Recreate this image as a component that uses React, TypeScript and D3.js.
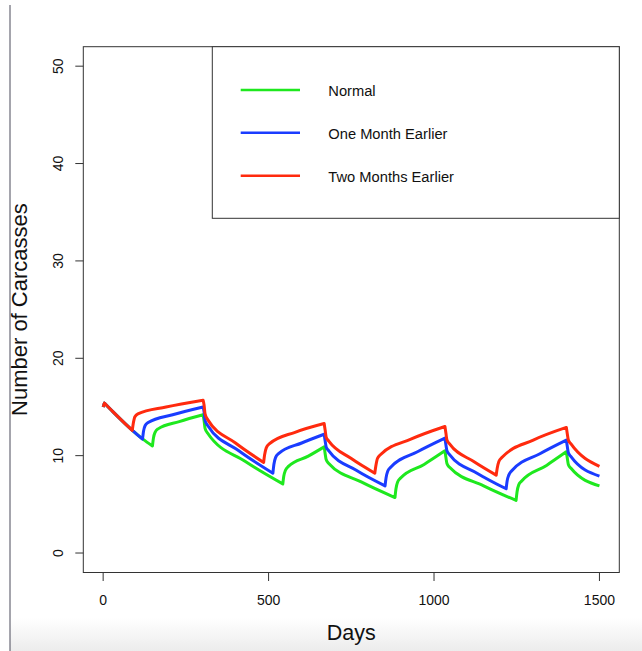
import React from "react";
import * as d3 from "d3";

const seriesNames = ["Normal", "One Month Earlier", "Two Months Earlier"];
const seriesColors = ["#1ee81e", "#1a3cff", "#ff2a0e"];

const xTicks = [0, 500, 1000, 1500];
const yTicks = [0, 10, 20, 30, 40, 50];

const normal: [number, number][] = [
  [0, 15.0], [4, 15.4], [30, 14.5], [60, 13.5], [90, 12.55], [120, 11.7], [149, 11.0],
  [152, 11.8], [157, 12.4], [166, 12.75], [230, 13.5], [302, 14.2],
  [305, 13.6], [308, 12.8], [316, 12.3], [430, 9.4], [543, 7.1],
  [546, 7.9], [551, 8.5], [560, 8.9], [620, 9.95], [668, 10.9],
  [671, 10.2], [674, 9.6], [682, 9.2], [780, 7.3], [882, 5.7],
  [885, 6.6], [890, 7.3], [899, 7.7], [970, 9.1], [1033, 10.5],
  [1036, 9.8], [1039, 9.2], [1047, 8.8], [1150, 6.9], [1248, 5.4],
  [1251, 6.3], [1256, 7.0], [1265, 7.4], [1340, 9.0], [1400, 10.4],
  [1403, 9.7], [1406, 9.1], [1414, 8.7], [1500, 6.9],
];

const oneMonth: [number, number][] = [
  [0, 15.0], [4, 15.4], [30, 14.5], [60, 13.5], [90, 12.55], [119, 11.7],
  [122, 12.5], [127, 13.1], [136, 13.4], [210, 14.2], [302, 15.0],
  [305, 14.5], [308, 13.6], [316, 13.1], [410, 10.5], [513, 8.2],
  [516, 9.1], [521, 9.8], [530, 10.2], [600, 11.3], [668, 12.2],
  [671, 11.5], [674, 10.9], [682, 10.5], [765, 8.5], [852, 6.9],
  [855, 7.7], [860, 8.4], [869, 8.8], [950, 10.4], [1033, 11.8],
  [1036, 11.1], [1039, 10.5], [1047, 10.1], [1130, 8.2], [1218, 6.6],
  [1221, 7.4], [1226, 8.0], [1235, 8.45], [1320, 10.2], [1400, 11.6],
  [1403, 10.9], [1406, 10.3], [1414, 9.9], [1500, 7.9],
];

const twoMonths: [number, number][] = [
  [0, 15.0], [4, 15.4], [30, 14.5], [60, 13.5], [88, 12.6],
  [91, 13.3], [96, 14.0], [105, 14.3], [190, 15.0], [302, 15.7],
  [305, 15.2], [308, 14.3], [316, 13.7], [400, 11.3], [485, 9.3],
  [488, 10.1], [493, 10.8], [502, 11.2], [580, 12.4], [668, 13.3],
  [671, 12.6], [674, 11.9], [682, 11.5], [750, 9.7], [821, 8.2],
  [824, 8.9], [829, 9.7], [838, 10.1], [930, 11.7], [1033, 13.0],
  [1036, 12.3], [1039, 11.6], [1047, 11.2], [1120, 9.4], [1188, 8.0],
  [1191, 8.7], [1196, 9.4], [1205, 9.8], [1300, 11.6], [1400, 12.9],
  [1403, 12.2], [1406, 11.6], [1414, 11.2], [1500, 8.9],
];

const allSeries = [normal, oneMonth, twoMonths];

const FONT = "'Liberation Sans', Arial, Helvetica, sans-serif";

// split a series into monotone runs so that peaks and troughs stay sharp
function monotoneRuns(pts: [number, number][]): [number, number][][] {
  const runs: [number, number][][] = [];
  let cur: [number, number][] = [pts[0]];
  let dir = 0;
  for (let i = 1; i < pts.length; i++) {
    const d = Math.sign(pts[i][1] - pts[i - 1][1]);
    if (dir !== 0 && d !== 0 && d !== dir) {
      runs.push(cur);
      cur = [pts[i - 1]];
    }
    if (d !== 0) dir = d;
    cur.push(pts[i]);
  }
  runs.push(cur);
  return runs;
}

export default function App() {
  const W = 642;
  const H = 651;
  const left = 83.3, right = 619.3, top = 46.7, bottom = 572.5;
  const x = d3.scaleLinear().domain([-60, 1560]).range([left, right]);
  const y = d3.scaleLinear().domain([-2, 52]).range([bottom, top]);

  const line = d3
    .line<[number, number]>()
    .x((d) => x(d[0]))
    .y((d) => y(d[1]))
    .curve(d3.curveMonotoneX);

  const pathFor = (pts: [number, number][]) => {
    const runs = monotoneRuns(pts);
    return runs
      .map((r, i) => {
        const s = line(r) || "";
        return i === 0 ? s : s.replace(/^M/, "L");
      })
      .join("");
  };

  const legTop = 46.7, legLeft = 212.3, legBottom = 218.3;
  const legLineY = [90, 132.7, 175.7];

  return (
    <svg
      width={W}
      height={H}
      style={{ position: "absolute", left: 0, top: 0, background: "#fff" }}
      fontFamily={FONT}
    >
      <defs>
        <linearGradient id="bottomFade" x1="0" y1="0" x2="0" y2="1">
          <stop offset="0" stopColor="#ffffff" />
          <stop offset="1" stopColor="#ececec" />
        </linearGradient>
      </defs>
      <rect x={0} y={0} width={W} height={H} fill="#fff" />
      <rect x={10} y={618} width={W - 10} height={H - 618} fill="url(#bottomFade)" />
      <line x1={10} y1={5} x2={10} y2={H} stroke="#4a4a5a" strokeWidth={1} />

      {/* series: green, blue, then red on top */}
      <g>
        {allSeries.map((s, i) => (
          <path
            key={i}
            d={pathFor(s)}
            fill="none"
            stroke={seriesColors[i]}
            strokeWidth={3}
            strokeLinejoin="round"
            strokeLinecap="butt"
          />
        ))}
      </g>

      {/* plot box */}
      <rect
        x={left}
        y={top}
        width={right - left}
        height={bottom - top}
        fill="none"
        stroke="#333"
        strokeWidth={1}
      />

      {/* x axis */}
      {xTicks.map((t) => (
        <g key={"x" + t}>
          <line x1={x(t)} x2={x(t)} y1={bottom} y2={bottom + 8.5} stroke="#333" />
          <text x={x(t)} y={605} textAnchor="middle" fontSize={14} fill="#111">
            {t}
          </text>
        </g>
      ))}
      <text x={(left + right) / 2} y={640} textAnchor="middle" fontSize={21.5} fill="#111">
        Days
      </text>

      {/* y axis */}
      {yTicks.map((t) => (
        <g key={"y" + t}>
          <line x1={left - 8} x2={left} y1={y(t)} y2={y(t)} stroke="#333" />
          <text
            transform={`translate(63,${y(t)}) rotate(-90)`}
            textAnchor="middle"
            fontSize={14}
            fill="#111"
          >
            {t}
          </text>
        </g>
      ))}
      <text
        transform={`translate(27,${(top + bottom) / 2}) rotate(-90)`}
        textAnchor="middle"
        fontSize={22}
        fill="#111"
      >
        Number of Carcasses
      </text>

      {/* legend */}
      <rect
        x={legLeft}
        y={legTop}
        width={right - legLeft}
        height={legBottom - legTop}
        fill="#fff"
        stroke="#333"
        strokeWidth={1}
      />
      {seriesNames.map((name, i) => (
        <g key={name}>
          <line
            x1={240.7}
            x2={300}
            y1={legLineY[i]}
            y2={legLineY[i]}
            stroke={seriesColors[i]}
            strokeWidth={2.5}
          />
          <text x={328.3} y={legLineY[i] + 6} fontSize={14.7} fill="#111">
            {name}
          </text>
        </g>
      ))}
    </svg>
  );
}
